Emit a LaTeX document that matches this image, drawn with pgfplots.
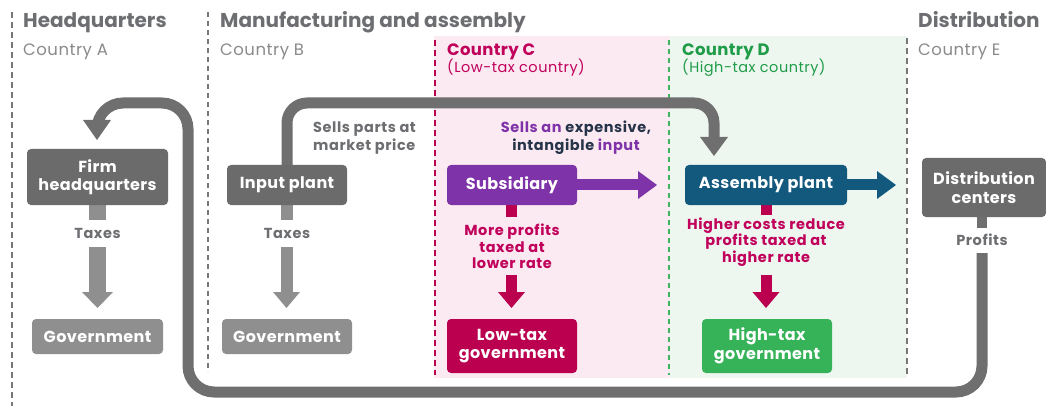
\documentclass[border=0pt]{standalone}
\usepackage{fontspec}
\setmainfont{Poppins}
\usepackage{pgfplots}
\pgfplotsset{compat=1.18}
\definecolor{hdr}{HTML}{6D6E71}
\definecolor{ctry}{HTML}{8A8A8C}
\definecolor{dkbox}{HTML}{6B6B6B}
\definecolor{ltbox}{HTML}{8F8F8F}
\definecolor{loopg}{HTML}{6F6F6F}
\definecolor{dashg}{HTML}{777777}
\definecolor{pinkbg}{HTML}{FBEAF2}
\definecolor{greenbg}{HTML}{EDF7F0}
\definecolor{crim}{HTML}{BA004F}
\definecolor{crimtxt}{HTML}{C0005A}
\definecolor{grtxt}{HTML}{1F9C48}
\definecolor{grdash}{HTML}{3CB55C}
\definecolor{purp}{HTML}{7F33A8}
\definecolor{navy}{HTML}{26344A}
\definecolor{blu}{HTML}{13597D}
\definecolor{grbox}{HTML}{36B359}
\newcommand{\fs}[3]{\fontsize{#1}{#2}\selectfont\addfontfeatures{LetterSpace=#3}}
\begin{document}
\begin{tikzpicture}
\useasboundingbox (0,0) rectangle (1046pt,406pt);
\begin{axis}[x=1pt,y=1pt,xmin=0,xmax=1046,ymin=0,ymax=406,y dir=reverse,
  hide axis, clip=false, anchor=south west, at={(0,0)}]
% backgrounds
\addplot[fill=pinkbg, draw=none] coordinates {(434,36) (670,36) (670,378) (434,378)};
\addplot[fill=greenbg, draw=none] coordinates {(670,36) (907,36) (907,378) (670,378)};
% dashed dividers
\addplot[dashg, line width=2.5pt, dash pattern=on 6pt off 4pt] coordinates {(12,12) (12,406)};
\addplot[dashg, line width=1.5pt, dash pattern=on 5pt off 4pt] coordinates {(208,12) (208,372)};
\addplot[dashg, line width=2.5pt, dash pattern=on 6pt off 4pt] coordinates {(907,38) (907,375)};
\addplot[crim, line width=2.2pt, dash pattern=on 6pt off 4pt] coordinates {(435,40) (435,375)};
\addplot[grdash, line width=1.8pt, dash pattern=on 5pt off 4pt] coordinates {(669,40) (669,375)};
% loops
\addplot[loopg, line width=11pt, rounded corners=20pt] coordinates {(287,166) (287,103) (714,103) (714,138)};
\addplot[fill=loopg, draw=none] coordinates {(700,137) (728,137) (714,156)};
\addplot[loopg, line width=11pt, rounded corners=26pt] coordinates {(982,253) (982,392) (188,392) (188,103) (97,103) (97,121)};
\addplot[fill=loopg, draw=none] coordinates {(83,120) (111,120) (97,140)};
% HQ column
\addplot[ltbox, line width=17pt] coordinates {(97,204) (97,220)};
\addplot[ltbox, line width=17pt] coordinates {(97,247) (97,293)};
\addplot[fill=ltbox, draw=none] coordinates {(82,292) (113,292) (97.5,308)};
\fill[dkbox, rounded corners=4pt] (27,149) rectangle (168,205);
\fill[ltbox, rounded corners=4pt] (32,319) rectangle (163,354);
% Input plant column
\addplot[ltbox, line width=12pt] coordinates {(287,204) (287,220)};
\addplot[ltbox, line width=12pt] coordinates {(287,247) (287,293)};
\addplot[fill=ltbox, draw=none] coordinates {(273,292) (300,292) (286.5,308)};
\fill[dkbox, rounded corners=4pt] (227,165) rectangle (347,205);
\fill[ltbox, rounded corners=4pt] (222,319) rectangle (352,354);
% Subsidiary column
\addplot[purp, line width=11pt] coordinates {(575,185) (640,185)};
\addplot[fill=purp, draw=none] coordinates {(638,171) (657,185) (638,199)};
\addplot[crim, line width=11pt] coordinates {(511.5,204) (511.5,217)};
\addplot[crim, line width=11pt] coordinates {(511.5,275) (511.5,293)};
\addplot[fill=crim, draw=none] coordinates {(498,292) (525,292) (511.5,308)};
\fill[purp, rounded corners=4pt] (447,165) rectangle (577,205);
\fill[crim, rounded corners=4pt] (447,319) rectangle (577,373);
% Assembly column
\addplot[blu, line width=11pt] coordinates {(845,185) (879,185)};
\addplot[fill=blu, draw=none] coordinates {(877,171) (896,185) (877,199)};
\addplot[crim, line width=11pt] coordinates {(766,204) (766,215)};
\addplot[crim, line width=11pt] coordinates {(766,275) (766,293)};
\addplot[fill=crim, draw=none] coordinates {(752.5,292) (779.5,292) (766,308)};
\fill[blu, rounded corners=4pt] (685,165) rectangle (847,205);
\fill[grbox, rounded corners=4pt] (702,319) rectangle (832,373);
% Distribution
\addplot[loopg, line width=10pt] coordinates {(982,216) (982,228)};
\fill[dkbox, rounded corners=4pt] (922,158) rectangle (1046,217);
% headings
\tikzset{hd/.style={anchor=base west, inner sep=0pt}}
\node[hd, text=hdr, font=\bfseries\fs{20}{22}{0}] at (23,28) {Headquarters};
\node[hd, text=hdr, font=\bfseries\fs{20}{22}{0}] at (220,28) {Manufacturing and assembly};
\node[hd, text=hdr, font=\bfseries\fs{20}{22}{0}] at (918,28) {Distribution};
\node[hd, text=ctry, font=\fs{16.5}{18}{3}] at (23,56) {Country A};
\node[hd, text=ctry, font=\fs{16.5}{18}{3}] at (220,56) {Country B};
\node[hd, text=ctry, font=\fs{16.5}{18}{3}] at (918,56) {Country E};
\node[hd, text=crimtxt, font=\bfseries\fs{16.5}{18}{2}] at (447,56) {Country C};
\node[hd, text=crimtxt, font=\fs{14.5}{16}{3.5}] at (447,73) {(Low-tax country)};
\node[hd, text=grtxt, font=\bfseries\fs{16.5}{18}{2}] at (682,56) {Country D};
\node[hd, text=grtxt, font=\fs{14.5}{16}{3.5}] at (682,73) {(High-tax country)};
% box texts
\tikzset{bt/.style={text=white, font=\bfseries\fs{16}{18.5}{2.5}, align=center, inner sep=0pt}}
\node[bt] at (97.5,177) {Firm\\headquarters};
\node[bt] at (97.5,336.5) {Government};
\node[bt] at (287,185) {Input plant};
\node[bt] at (287,336.5) {Government};
\node[bt] at (512,185) {Subsidiary};
\node[bt] at (512,346) {Low-tax\\government};
\node[bt] at (766,185) {Assembly plant};
\node[bt] at (767,346) {High-tax\\government};
\node[bt] at (984,187.5) {Distribution\\centers};
% labels
\tikzset{lt/.style={font=\bfseries\fs{14.5}{16.5}{4}, align=center, inner sep=0pt}}
\node[lt, text=hdr] at (97.5,233.5) {Taxes};
\node[lt, text=hdr] at (287,233.5) {Taxes};
\node[lt, text=hdr] at (982,240) {Profits};
\node[lt, text=hdr, align=left, anchor=west, font=\bfseries\fs{14.5}{18}{4}] at (313,138) {Sells parts at\\market price};
\node[lt, text=navy, font=\bfseries\fs{14.5}{18}{4}] at (576,138) {\textcolor{purp}{Sells an} expensive,\\intangible \textcolor{purp}{input}};
\node[lt, text=crimtxt] at (512,246.5) {More profits\\taxed at\\lower rate};
\node[lt, text=crimtxt] at (766,242) {Higher costs reduce\\profits taxed at\\higher rate};
\end{axis}
\end{tikzpicture}
\end{document}
